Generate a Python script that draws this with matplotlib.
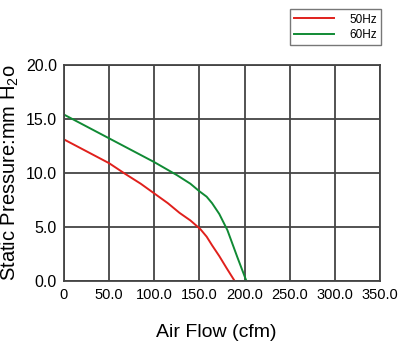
import matplotlib.pyplot as plt

# curve data
flow_50 = [0, 25, 50, 68, 85, 100, 115, 128, 140, 151, 158, 164, 172, 180, 189]
pres_50 = [13.1, 12.0, 10.9, 9.9, 9.0, 8.1, 7.2, 6.3, 5.6, 4.8, 4.1, 3.3, 2.3, 1.2, 0.0]
flow_60 = [0, 25, 50, 75, 100, 125, 140, 150, 158, 164, 172, 181, 192, 202]
pres_60 = [15.4, 14.3, 13.2, 12.1, 11.0, 9.8, 9.0, 8.3, 7.8, 7.2, 6.2, 4.7, 2.2, 0.0]

xticks = [0, 50, 100, 150, 200, 250, 300, 350]
xticklabels = ['0', '50.0', '100.0', '150.0', '200.0', '250.0', '300.0', '350.0']
yticks = [0, 5, 10, 15, 20]
yticklabels = ['0.0', '5.0', '10.0', '15.0', '20.0']

plt.rcParams['font.family'] = ['Liberation Sans', 'DejaVu Sans']

fig = plt.figure(figsize=(4.0, 3.49), dpi=100)
ax = fig.add_axes([0.16, 0.195, 0.79, 0.619])

ax.plot(flow_50, pres_50, color='#e0201c', lw=1.4, label='50Hz')
ax.plot(flow_60, pres_60, color='#108a34', lw=1.4, label='60Hz')

ax.set_xlim(0, 350)
ax.set_ylim(0, 20)
ax.set_xticks(xticks)
ax.set_xticklabels(xticklabels, fontsize=10.5)
ax.set_yticks(yticks)
ax.set_yticklabels(yticklabels, fontsize=11.5)
ax.tick_params(length=0, pad=5)
ax.grid(True, color='#444444', lw=1.3)
for s in ax.spines.values():
    s.set_color('#444444')
    s.set_linewidth(1.3)

ax.set_xlabel('Air Flow (cfm)', fontsize=14)
ax.xaxis.set_label_coords(0.481, -0.2)
ax.set_ylabel(r'Static Pressure:mm H$_\mathregular{2}$o', fontsize=14.5)
ax.yaxis.set_label_coords(-0.135, 0.5)

fig.legend(loc='upper right', bbox_to_anchor=(0.968, 0.99), fontsize=8.5,
           frameon=True, fancybox=False, edgecolor='#555555', handlelength=3.4,
           borderpad=0.35, labelspacing=0.3, handletextpad=1.3)

fig.savefig('out.png', dpi=100)
